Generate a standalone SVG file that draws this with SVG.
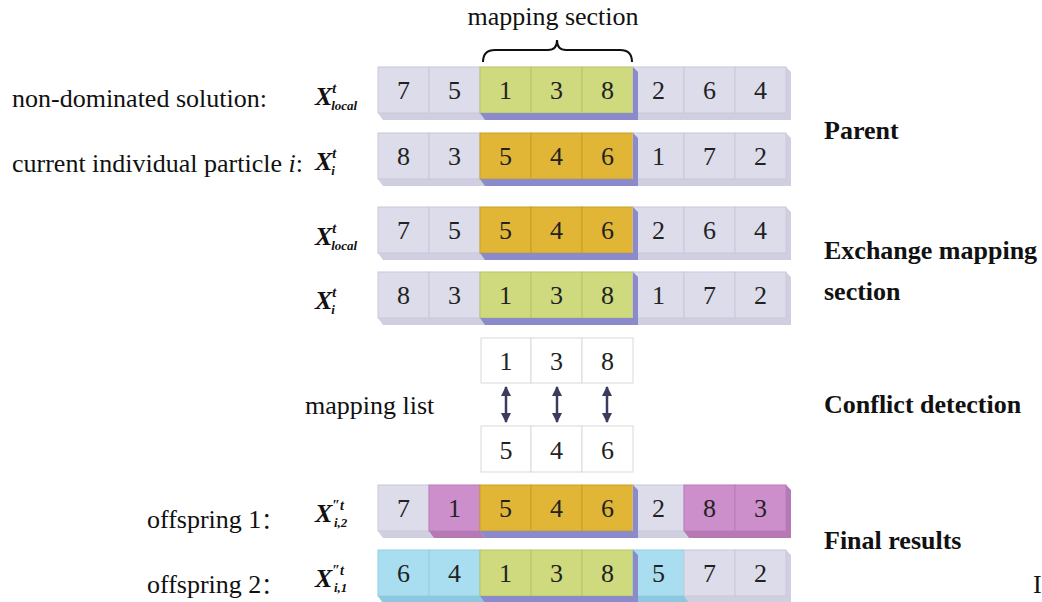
<svg xmlns="http://www.w3.org/2000/svg" width="1042" height="602" viewBox="0 0 1042 602">
<style>
  .g{fill:#dddcea;stroke:#c9c8dc;stroke-width:1}
  .gr{fill:#cfda7e;stroke:#b9c468;stroke-width:1}
  .go{fill:#e1b636;stroke:#c99f22;stroke-width:1}
  .m{fill:#cc8fcc;stroke:#b87cb8;stroke-width:1}
  .c{fill:#a9def0;stroke:#93cde2;stroke-width:1}
  .lip{fill:#d0cfe1}
  .sh{fill:#8b8bcc}
  .msh{fill:#b579b5}
  .csh{fill:#8cc9df}
  .n{font-family:"Liberation Serif","Times New Roman",serif;font-size:26px;fill:#222;text-anchor:middle}
  .t{font-family:"Liberation Serif","Times New Roman",serif;font-size:26px;fill:#111}
  .b{font-family:"Liberation Serif","Times New Roman",serif;font-size:26px;font-weight:bold;fill:#111}
  .x{font-family:"Liberation Serif","Times New Roman",serif;font-weight:bold;font-style:italic;fill:#111}
  .box{fill:#fff;stroke:#d9d9d9;stroke-width:1}
  .arr{stroke:#3b3b5c;stroke-width:2.5;fill:none}
</style>
<defs>
  <marker id="ah" viewBox="0 0 10 10" refX="9" refY="5" markerWidth="4" markerHeight="4" orient="auto-start-reverse">
    <path d="M0,0 L10,5 L0,10 z" fill="#3b3b5c"/>
  </marker>
</defs>

<g id="mapping-section">
  <text class="t" x="553" y="25" text-anchor="middle">mapping section</text>
  <path d="M483,62 Q483,50 495,50 L548,50 Q557,50 557,40 Q557,50 566,50 L620,50 Q632,50 632,62" fill="none" stroke="#111" stroke-width="2"/>
</g>

<g id="labels-left">
  <text class="t" x="12" y="107">non-dominated solution:</text>
  <text class="t" x="12" y="172">current individual particle <tspan font-style="italic">i</tspan>:</text>
  <text class="t" x="305" y="414">mapping list</text>
  <text class="t" x="147" y="528">offspring 1<tspan font-family="'Noto Sans CJK SC',sans-serif" font-size="22">：</tspan></text>
  <text class="t" x="147" y="593">offspring 2<tspan font-family="'Noto Sans CJK SC',sans-serif" font-size="22">：</tspan></text>
</g>

<g id="x-labels">
  <text class="x" x="315" y="105" font-size="26">X<tspan font-size="14" dy="-12">t</tspan><tspan font-size="13" dx="-5" dy="17">local</tspan></text>
  <text class="x" x="315" y="170" font-size="26">X<tspan font-size="14" dy="-12">t</tspan><tspan font-size="13" dx="-5" dy="17">i</tspan></text>
  <text class="x" x="315" y="245" font-size="26">X<tspan font-size="14" dy="-12">t</tspan><tspan font-size="13" dx="-5" dy="17">local</tspan></text>
  <text class="x" x="315" y="309" font-size="26">X<tspan font-size="14" dy="-12">t</tspan><tspan font-size="13" dx="-5" dy="17">i</tspan></text>
  <text class="x" x="315" y="522" font-size="26">X<tspan font-size="14" dy="-12">″t</tspan><tspan font-size="13" dx="-10" dy="17">i,2</tspan></text>
  <text class="x" x="315" y="587" font-size="26">X<tspan font-size="14" dy="-12">″t</tspan><tspan font-size="13" dx="-10" dy="17">i,1</tspan></text>
</g>

<g id="row1">
  <polygon class="lip" points="378,113 383,120 791,120 791,72 786,67"/>
  <rect class="g" x="378" y="67" width="51" height="46"/>
  <rect class="g" x="429" y="67" width="51" height="46"/>
  <rect class="gr" x="480" y="67" width="51" height="46"/>
  <rect class="gr" x="531" y="67" width="51" height="46"/>
  <rect class="gr" x="582" y="67" width="51" height="46"/>
  <rect class="g" x="633" y="67" width="51" height="46"/>
  <rect class="g" x="684" y="67" width="51" height="46"/>
  <rect class="g" x="735" y="67" width="51" height="46"/>
  <polygon class="sh" points="480,113 485,120 638,120 638,72 633,67 633,113"/>
  <text class="n" x="403.5" y="99">7</text><text class="n" x="454.5" y="99">5</text>
  <text class="n" x="505.5" y="99">1</text><text class="n" x="556.5" y="99">3</text><text class="n" x="607.5" y="99">8</text>
  <text class="n" x="658.5" y="99">2</text><text class="n" x="709.5" y="99">6</text><text class="n" x="760.5" y="99">4</text>
</g>

<g id="row2">
  <polygon class="lip" points="378,179 383,186 791,186 791,138 786,133"/>
  <rect class="g" x="378" y="133" width="51" height="46"/>
  <rect class="g" x="429" y="133" width="51" height="46"/>
  <rect class="go" x="480" y="133" width="51" height="46"/>
  <rect class="go" x="531" y="133" width="51" height="46"/>
  <rect class="go" x="582" y="133" width="51" height="46"/>
  <rect class="g" x="633" y="133" width="51" height="46"/>
  <rect class="g" x="684" y="133" width="51" height="46"/>
  <rect class="g" x="735" y="133" width="51" height="46"/>
  <polygon class="sh" points="480,179 485,186 638,186 638,138 633,133 633,179"/>
  <text class="n" x="403.5" y="165">8</text><text class="n" x="454.5" y="165">3</text>
  <text class="n" x="505.5" y="165">5</text><text class="n" x="556.5" y="165">4</text><text class="n" x="607.5" y="165">6</text>
  <text class="n" x="658.5" y="165">1</text><text class="n" x="709.5" y="165">7</text><text class="n" x="760.5" y="165">2</text>
</g>

<g id="row3">
  <polygon class="lip" points="378,253 383,260 791,260 791,212 786,207"/>
  <rect class="g" x="378" y="207" width="51" height="46"/>
  <rect class="g" x="429" y="207" width="51" height="46"/>
  <rect class="go" x="480" y="207" width="51" height="46"/>
  <rect class="go" x="531" y="207" width="51" height="46"/>
  <rect class="go" x="582" y="207" width="51" height="46"/>
  <rect class="g" x="633" y="207" width="51" height="46"/>
  <rect class="g" x="684" y="207" width="51" height="46"/>
  <rect class="g" x="735" y="207" width="51" height="46"/>
  <polygon class="sh" points="480,253 485,260 638,260 638,212 633,207 633,253"/>
  <text class="n" x="403.5" y="239">7</text><text class="n" x="454.5" y="239">5</text>
  <text class="n" x="505.5" y="239">5</text><text class="n" x="556.5" y="239">4</text><text class="n" x="607.5" y="239">6</text>
  <text class="n" x="658.5" y="239">2</text><text class="n" x="709.5" y="239">6</text><text class="n" x="760.5" y="239">4</text>
</g>

<g id="row4">
  <polygon class="lip" points="378,318 383,325 791,325 791,277 786,272"/>
  <rect class="g" x="378" y="272" width="51" height="46"/>
  <rect class="g" x="429" y="272" width="51" height="46"/>
  <rect class="gr" x="480" y="272" width="51" height="46"/>
  <rect class="gr" x="531" y="272" width="51" height="46"/>
  <rect class="gr" x="582" y="272" width="51" height="46"/>
  <rect class="g" x="633" y="272" width="51" height="46"/>
  <rect class="g" x="684" y="272" width="51" height="46"/>
  <rect class="g" x="735" y="272" width="51" height="46"/>
  <polygon class="sh" points="480,318 485,325 638,325 638,277 633,272 633,318"/>
  <text class="n" x="403.5" y="304">8</text><text class="n" x="454.5" y="304">3</text>
  <text class="n" x="505.5" y="304">1</text><text class="n" x="556.5" y="304">3</text><text class="n" x="607.5" y="304">8</text>
  <text class="n" x="658.5" y="304">1</text><text class="n" x="709.5" y="304">7</text><text class="n" x="760.5" y="304">2</text>
</g>

<g id="mapping-top">
  <rect class="box" x="481" y="338" width="50" height="45"/>
  <rect class="box" x="531" y="338" width="51" height="45"/>
  <rect class="box" x="582" y="338" width="51" height="45"/>
  <text class="n" x="506" y="370">1</text><text class="n" x="556.5" y="370">3</text><text class="n" x="607.5" y="370">8</text>
</g>
<g id="mapping-bottom">
  <rect class="box" x="481" y="426" width="50" height="46"/>
  <rect class="box" x="531" y="426" width="51" height="46"/>
  <rect class="box" x="582" y="426" width="51" height="46"/>
  <text class="n" x="506" y="459">5</text><text class="n" x="556.5" y="459">4</text><text class="n" x="607.5" y="459">6</text>
</g>
<g id="connectors">
  <line class="arr" x1="506" y1="387" x2="506" y2="422" marker-start="url(#ah)" marker-end="url(#ah)"/>
  <line class="arr" x1="557" y1="387" x2="557" y2="422" marker-start="url(#ah)" marker-end="url(#ah)"/>
  <line class="arr" x1="607" y1="387" x2="607" y2="422" marker-start="url(#ah)" marker-end="url(#ah)"/>
</g>

<g id="row5">
  <polygon class="lip" points="378,531 383,538 791,538 791,490 786,485"/>
  <rect class="g" x="378" y="485" width="51" height="46"/>
  <rect class="m" x="429" y="485" width="51" height="46"/>
  <rect class="go" x="480" y="485" width="51" height="46"/>
  <rect class="go" x="531" y="485" width="51" height="46"/>
  <rect class="go" x="582" y="485" width="51" height="46"/>
  <rect class="g" x="633" y="485" width="51" height="46"/>
  <rect class="m" x="684" y="485" width="51" height="46"/>
  <rect class="m" x="735" y="485" width="51" height="46"/>
  <polygon class="msh" points="429,531 434,538 485,538 480,531"/>
  <polygon class="sh" points="480,531 485,538 638,538 638,490 633,485 633,531"/>
  <polygon class="msh" points="684,531 689,538 791,538 791,490 786,485 786,531"/>
  <text class="n" x="403.5" y="517">7</text><text class="n" x="454.5" y="517">1</text>
  <text class="n" x="505.5" y="517">5</text><text class="n" x="556.5" y="517">4</text><text class="n" x="607.5" y="517">6</text>
  <text class="n" x="658.5" y="517">2</text><text class="n" x="709.5" y="517">8</text><text class="n" x="760.5" y="517">3</text>
</g>

<g id="row6">
  <polygon class="lip" points="378,596 383,603 791,603 791,555 786,550"/>
  <rect class="c" x="378" y="550" width="51" height="46"/>
  <rect class="c" x="429" y="550" width="51" height="46"/>
  <rect class="gr" x="480" y="550" width="51" height="46"/>
  <rect class="gr" x="531" y="550" width="51" height="46"/>
  <rect class="gr" x="582" y="550" width="51" height="46"/>
  <rect class="c" x="633" y="550" width="51" height="46"/>
  <rect class="g" x="684" y="550" width="51" height="46"/>
  <rect class="g" x="735" y="550" width="51" height="46"/>
  <polygon class="csh" points="378,596 383,603 485,603 480,596"/>
  <polygon class="csh" points="633,596 638,603 689,603 684,596"/>
  <polygon class="sh" points="480,596 485,603 638,603 638,555 633,550 633,596"/>
  <text class="n" x="403.5" y="582">6</text><text class="n" x="454.5" y="582">4</text>
  <text class="n" x="505.5" y="582">1</text><text class="n" x="556.5" y="582">3</text><text class="n" x="607.5" y="582">8</text>
  <text class="n" x="658.5" y="582">5</text><text class="n" x="709.5" y="582">7</text><text class="n" x="760.5" y="582">2</text>
</g>

<g id="labels-right">
  <text class="b" x="824" y="139">Parent</text>
  <text class="b" x="824" y="259">Exchange mapping</text>
  <text class="b" x="824" y="300">section</text>
  <text class="b" x="824" y="413">Conflict detection</text>
  <text class="b" x="824" y="549">Final results</text>
  <text class="t" x="1033" y="593" font-size="17">I</text>
</g>
</svg>
